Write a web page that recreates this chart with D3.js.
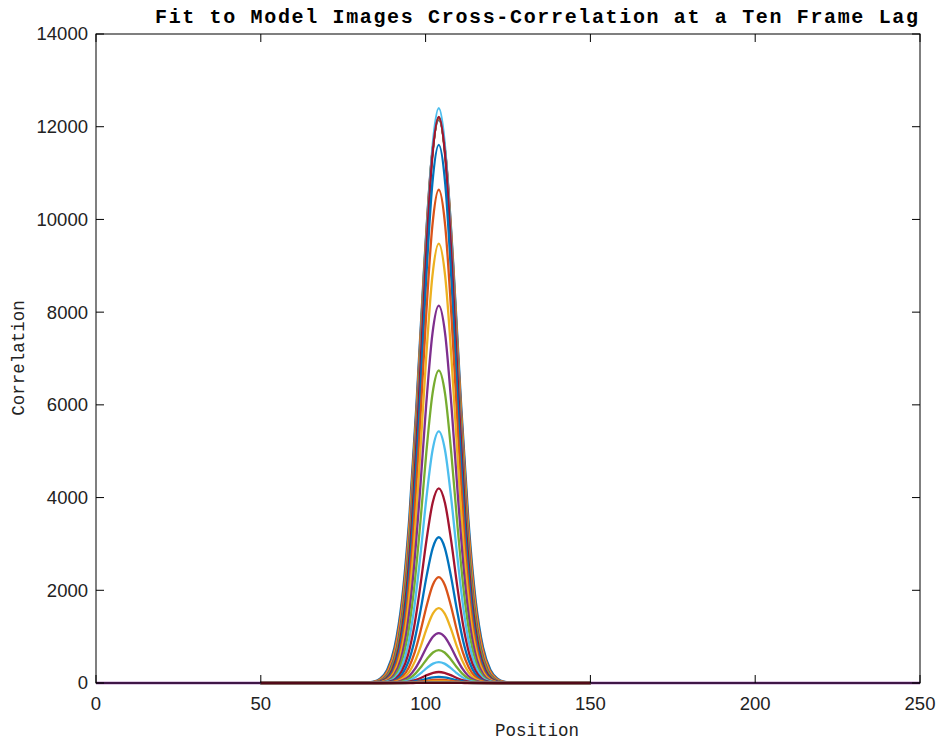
<!DOCTYPE html>
<html><head><meta charset="utf-8">
<script src="https://cdn.jsdelivr.net/npm/d3@7/dist/d3.min.js"></script>
<style>body{margin:0;background:#fff}</style>
</head><body><svg id="c" width="938" height="740"></svg>
<script>
// ---- data ----
const xTicks = [0, 50, 100, 150, 200, 250];
const yTicks = [0, 2000, 4000, 6000, 8000, 10000, 12000, 14000];
const peakCenter = 104;
// peak heights of each series, in drawing order
const peaks = [12150, 12170, 12185, 12195, 12205, 12400, 12212, 11609, 10640, 9477, 8141, 6741, 5427, 4200, 3144, 2283, 1615, 1077, 711, 452, 237, 130, 70, 35, 15, 8, 4, 2];
// width factor of each series relative to the tallest curve
const widths = [1.12, 1.1, 1.08, 1.06, 1.04, 1.0, 1.01, 0.99, 0.98, 0.97, 0.96, 0.95, 0.94, 0.93, 0.92, 0.91, 0.9, 0.89, 0.88, 0.87, 0.86, 0.86, 0.86, 0.86, 0.86, 0.86, 0.86, 0.86];
// x range covered by each series
const xStart = [50,50,50,50,50,50,50,50,50,50,50,50,50,50,50,50,50,50,50,50,50,50,50,50,0,50,50,50];
const xEnd   = [150,150,150,150,150,150,150,150,150,150,150,150,150,150,150,150,150,150,150,150,150,150,150,150,250,150,150,150];
// normalized peak profile (fraction of peak) at offsets 0,2,4,... from centre
const profileOffsets = [0, 2, 4, 6, 8, 10, 12, 14, 16, 18, 20];
const profileValues  = [1, 0.926, 0.735, 0.5, 0.292, 0.146, 0.063, 0.023, 0.0073, 0.0019, 0];
const colors = ["#0072BD", "#D95319", "#EDB120", "#7E2F8E", "#77AC30", "#4DBEEE", "#A2142F"];

// ---- chart ----
const svg = d3.select("#c");
const L = 96, R = 920, T = 34, B = 683;
const x = d3.scaleLinear().domain([0, 250]).range([L, R]);
const y = d3.scaleLinear().domain([0, 14000]).range([B, T]);

const line = d3.line().x(d => x(d[0])).y(d => y(d[1])).curve(d3.curveMonotoneX);

peaks.forEach((p, i) => {
  const pts = [];
  const w = widths[i];
  const left = [], right = [];
  for (let k = profileOffsets.length - 1; k >= 1; k--) left.push([peakCenter - profileOffsets[k] * w, p * profileValues[k]]);
  for (let k = 1; k < profileOffsets.length; k++) right.push([peakCenter + profileOffsets[k] * w, p * profileValues[k]]);
  pts.push([xStart[i], 0], ...left, [peakCenter, p], ...right, [xEnd[i], 0]);
  svg.append("path").attr("d", line(pts)).attr("fill", "none")
    .attr("stroke", colors[i % colors.length]).attr("stroke-width", 2.3)
    .attr("stroke-linejoin", "round");
});

// box
svg.append("rect").attr("x", L).attr("y", T).attr("width", R - L).attr("height", B - T)
  .attr("fill", "none").attr("stroke", "#000").attr("stroke-width", 1);

const tickLen = 8;
const fontTick = "Liberation Sans, Arial, sans-serif";
xTicks.forEach(t => {
  svg.append("line").attr("x1", x(t)).attr("x2", x(t)).attr("y1", B).attr("y2", B - tickLen).attr("stroke", "#000");
  svg.append("line").attr("x1", x(t)).attr("x2", x(t)).attr("y1", T).attr("y2", T + tickLen).attr("stroke", "#000");
  svg.append("text").attr("x", x(t)).attr("y", 710).attr("text-anchor", "middle")
    .attr("font-family", fontTick).attr("font-size", 18.5).attr("fill", "#222").text(t);
});
yTicks.forEach(t => {
  svg.append("line").attr("x1", L).attr("x2", L + tickLen).attr("y1", y(t)).attr("y2", y(t)).attr("stroke", "#000");
  svg.append("line").attr("x1", R).attr("x2", R - tickLen).attr("y1", y(t)).attr("y2", y(t)).attr("stroke", "#000");
  svg.append("text").attr("x", 88).attr("y", y(t)).attr("dy", "0.35em").attr("text-anchor", "end")
    .attr("font-family", fontTick).attr("font-size", 18.5).attr("fill", "#222").text(t);
});

const mono = "Liberation Mono, Courier New, monospace";
svg.append("text").attr("x", 155).attr("y", 23).attr("font-family", mono).attr("font-weight", "bold")
  .attr("font-size", 20).attr("textLength", 763).attr("lengthAdjust", "spacing").attr("fill", "#000")
  .text("Fit to Model Images Cross-Correlation at a Ten Frame Lag");
svg.append("text").attr("x", 537).attr("y", 736).attr("text-anchor", "middle").attr("font-family", mono)
  .attr("font-size", 17.5).attr("fill", "#222").text("Position");
svg.append("text").attr("transform", "translate(24,358) rotate(-90)").attr("text-anchor", "middle")
  .attr("font-family", mono).attr("font-size", 17.5).attr("fill", "#222").text("Correlation");
</script></body></html>
